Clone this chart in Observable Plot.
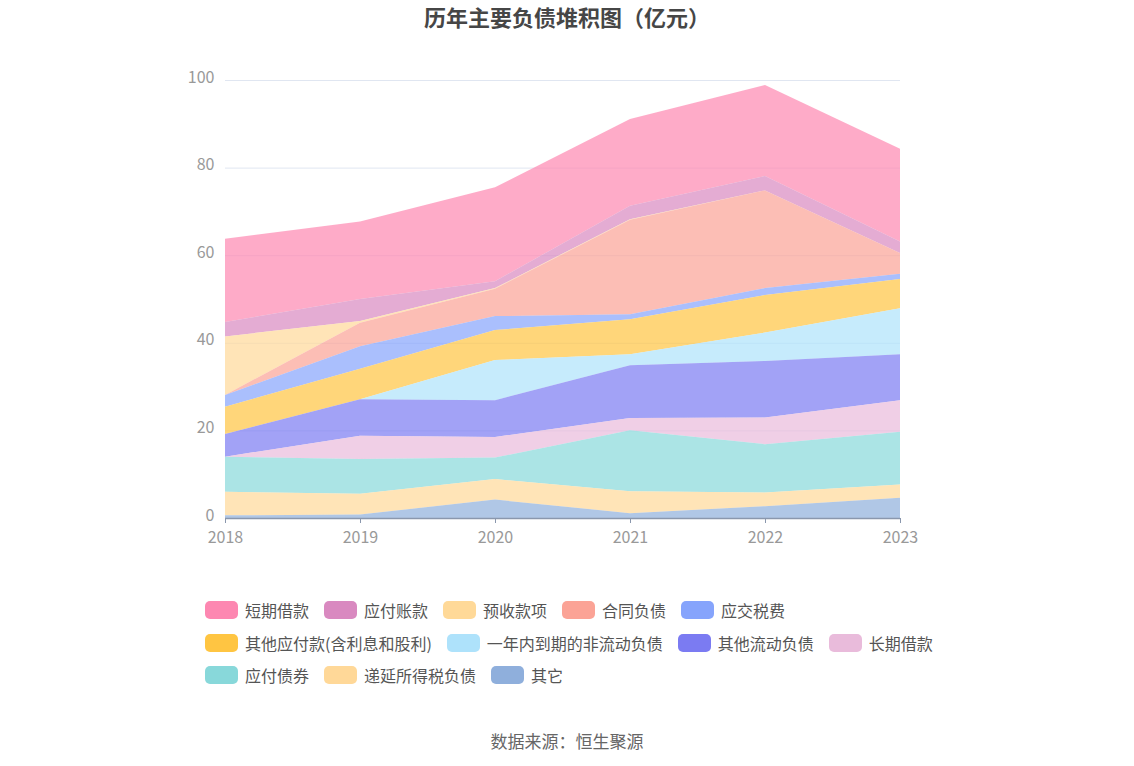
<!DOCTYPE html>
<html>
<head>
<meta charset="utf-8">
<script src="https://cdn.jsdelivr.net/npm/d3@7"></script>
<script src="https://cdn.jsdelivr.net/npm/@observablehq/plot@0.6"></script>
<style>
  html, body { margin: 0; padding: 0; background: #fff; }
  body { width: 1134px; height: 766px; overflow: hidden; font-family: "Noto Sans CJK SC", "Noto Sans", sans-serif; }
  #title { height: 50px; line-height: 32px; text-align: center; font-size: 22px; font-weight: bold; color: #464646; }
  #chart svg { display: block; }
  #legend { margin-left: 205px; margin-top: 4px; }
  .row { display: flex; align-items: center; height: 32.5px; }
  .item { display: flex; align-items: center; margin-right: 15px; font-size: 16px; color: #555; }
  .sw { width: 33px; height: 18px; border-radius: 5px; margin-right: 7px; }
  #caption { position: absolute; top: 728px; left: 0; width: 1134px; text-align: center; font-size: 17px; color: #666; }
</style>
</head>
<body>
<div id="title">历年主要负债堆积图（亿元）</div>
<div id="chart"></div>
<div id="legend"></div>
<div id="caption">数据来源：恒生聚源</div>
<script>
const years = [2018, 2019, 2020, 2021, 2022, 2023];
// series in legend order
const seriesNames = ["短期借款", "应付账款", "预收款项", "合同负债", "应交税费", "其他应付款(含利息和股利)", "一年内到期的非流动负债", "其他流动负债", "长期借款", "应付债券", "递延所得税负债", "其它"];
const colors = ["#fd87b1", "#d989c0", "#ffd998", "#fba396", "#86a4fc", "#ffc542", "#aee2fb", "#7b7bf2", "#e9bbdb", "#88d8da", "#ffd898", "#8fafdc"];

const shortLoan      = [19.0, 17.7, 21.45, 19.8, 20.75, 21.2];
const accountsPay    = [3.3, 5.0, 1.55, 3.1, 3.3, 2.6];
const advanceRecv    = [13.35, 0.4, 0.15, 0.1, 0.0, 0.0];
const contractLiab   = [0.0, 5.4, 6.25, 21.6, 22.3, 4.75];
const taxPay         = [2.7, 5.1, 3.2, 1.15, 1.6, 1.2];
const otherPay       = [6.2, 7.0, 6.85, 7.95, 8.55, 6.65];
const currentNonCur  = [0.0, 0.0, 9.15, 2.5, 6.5, 10.5];
const otherCurrent   = [5.2, 8.3, 8.4, 12.05, 12.9, 10.5];
const longLoan       = [0.0, 5.35, 4.7, 2.8, 6.1, 7.2];
const bondsPay       = [8.0, 7.9, 4.9, 13.95, 11.05, 12.05];
const deferredTax    = [5.4, 4.75, 4.7, 5.0, 3.1, 3.0];
const others         = [0.6, 0.8, 4.2, 1.1, 2.7, 4.65];

const seriesValues = [shortLoan, accountsPay, advanceRecv, contractLiab, taxPay, otherPay, currentNonCur, otherCurrent, longLoan, bondsPay, deferredTax, others];
const yTicks = [0, 20, 40, 60, 80, 100];

const data = [];
seriesNames.forEach((name, i) => {
  years.forEach((yr, j) => data.push({series: name, year: yr, value: seriesValues[i][j]}));
});
const stackOrder = seriesNames.slice().reverse();

const chart = Plot.plot({
  width: 1134,
  height: 540,
  marginTop: 30,
  marginBottom: 72,
  marginLeft: 225,
  marginRight: 234,
  style: {fontFamily: "'Noto Sans CJK SC', 'Noto Sans', sans-serif", fontSize: "16px", color: "#999", background: "#fff"},
  x: {domain: [2018, 2023], ticks: years, tickFormat: d => String(d), label: null},
  y: {domain: [0, 100], ticks: yTicks, label: null},
  color: {domain: seriesNames, range: colors},
  marks: [
    Plot.gridY(yTicks.filter(d => d > 0), {stroke: "#e0e6f1", strokeOpacity: 1}),
    Plot.areaY(data, Plot.stackY({order: stackOrder}, {x: "year", y: "value", z: "series", fill: "series", fillOpacity: 0.7})),
    Plot.ruleY([0], {stroke: "#8a97ad", strokeWidth: 1.5}),
    Plot.axisX({ticks: years, tickSize: 5, tickPadding: 8, stroke: "#8a97ad", fill: "#999", fontSize: 16, tickFormat: d => String(d), label: null}),
    Plot.axisY({ticks: yTicks, tickSize: 0, tickPadding: 11, fill: "#999", fontSize: 16, dy: -3, label: null})
  ]
});
document.getElementById("chart").appendChild(chart);

const rows = [[0,1,2,3,4],[5,6,7,8],[9,10,11]];
const legend = document.getElementById("legend");
rows.forEach(r => {
  const row = document.createElement("div");
  row.className = "row";
  r.forEach(i => {
    const it = document.createElement("div");
    it.className = "item";
    it.innerHTML = `<div class="sw" style="background:${colors[i]}"></div><span>${seriesNames[i]}</span>`;
    row.appendChild(it);
  });
  legend.appendChild(row);
});
</script>
</body>
</html>
